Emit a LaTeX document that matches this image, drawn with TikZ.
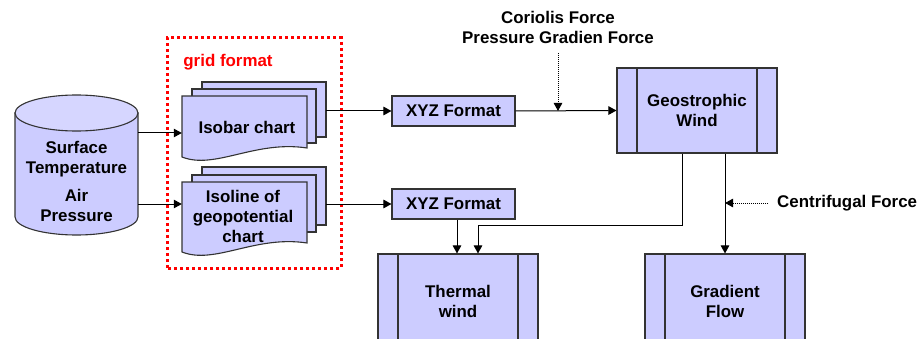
\documentclass[tikz,border=0pt]{standalone}
\usepackage{fontspec}
\setmainfont{Liberation Sans}
\usetikzlibrary{arrows.meta,calc}
\definecolor{boxfill}{HTML}{CCCCFF}
\definecolor{topfill}{HTML}{D6D6FF}
\definecolor{edge}{HTML}{333333}
\begin{document}
\begin{tikzpicture}[x=1pt,y=1pt,
  every node/.style={font=\fontsize{16.9}{20}\selectfont\bfseries, align=center, inner sep=0pt},
  proc/.style={draw=edge, fill=boxfill, line width=1.1pt, minimum width=160pt,
    path picture={\draw[edge, line width=1.1pt]
      ([xshift=20pt]path picture bounding box.north west) -- ([xshift=20pt]path picture bounding box.south west)
      ([xshift=-20pt]path picture bounding box.north east) -- ([xshift=-20pt]path picture bounding box.south east);}},
  fmt/.style={draw=edge, fill=boxfill, line width=1.1pt, minimum width=123pt, minimum height=30pt},
  arr/.style={-{Triangle[length=8pt,width=8.5pt]}, line width=1pt, black},
  darr/.style={-{Triangle[length=8pt,width=8.5pt]}, line width=0.9pt, black, dash pattern=on 1pt off 1pt},
  page/.style={draw=edge, fill=boxfill, line width=1.1pt},
  gridbox/.style={draw=red, line width=3pt, dash pattern=on 3pt off 3pt}
]
\useasboundingbox (0,0) rectangle (924,338);
\clip (0,0) rectangle (924,338);

% cylinder
\filldraw[page] (15,225) -- (15,121) arc[start angle=180,end angle=360,x radius=61.5,y radius=18] -- (138,225) -- cycle;
\filldraw[page, fill=topfill] (76.5,225) ellipse[x radius=61.5, y radius=18];
\node (db) at (76.5,157) {Surface\\Temperature\\[8pt]Air\\Pressure};
\coordinate (dbA) at (138,205);
\coordinate (dbB) at (138,134);

% grid format box
\draw[gridbox] (167,70) rectangle (341,300);
\node[text=red] (grid) at (228,276) {grid format};

% isobar chart (multi document)
\filldraw[page] (202,201) rectangle (326,256);
\filldraw[page] (192,195) rectangle (316,249);
\filldraw[page] (307,190) -- (307,242) -- (182,242) -- (182,181) .. controls (215,168) and (255,198) .. (307,190) -- cycle;
\node[minimum width=125pt, minimum height=61pt] (isobar) at (244.5,211.5) {};
\node (isobartxt) at (247,211) {Isobar chart};
\coordinate (isobarout) at (326,227);

% isoline chart (multi document)
\filldraw[page] (202,113) rectangle (326,171);
\filldraw[page] (192,106) rectangle (316,163);
\filldraw[page] (307,95) -- (307,156) -- (182,156) -- (182,86) .. controls (215,73) and (255,103) .. (307,95) -- cycle;
\node[minimum width=125pt, minimum height=66pt] (isoline) at (244.5,122) {};
\node (isolinetxt) at (243,122) {Isoline of\\geopotential\\chart};
\coordinate (isolineout) at (326,134);

% XYZ format boxes
\node[fmt] (xyz1) at (453.5,227) {XYZ Format};
\node[fmt] (xyz2) at (453.5,134) {XYZ Format};

% process boxes
\node[proc, minimum height=85pt] (geo) at (697,227.5) {Geostrophic\\Wind};
\node[proc, minimum height=94pt] (thermal) at (458,37) {Thermal\\wind};
\node[proc, minimum height=94pt] (grad) at (725,37) {Gradient\\Flow};

% force labels
\node (cor) at (558,310.5) {Coriolis Force\\Pressure Gradien Force};
\coordinate (corA) at (558,285);
\coordinate (corB) at (558,227);
\node[anchor=west] (cen) at (777,135) {Centrifugal Force};

% connectors
\draw[arr] (dbA) -- (dbA -| isobar.west);
\draw[arr] (dbB) -- (dbB -| isoline.west);
\draw[arr] (isobarout) -- (xyz1.west);
\draw[arr] (isolineout) -- (xyz2.west);
\draw[arr] (xyz1.east) -- (geo.west);
\draw[darr] (corA) -- (corB);
\draw[arr] ([xshift=3.5pt]xyz2.south) -- ([xshift=3.5pt]xyz2.south |- thermal.north);
\draw[arr] ([xshift=-15pt]geo.south) |- ($(thermal.north)+(20,28)$) -- ([xshift=20pt]thermal.north);
\draw[arr] (geo.south -| grad.north) -- (grad.north);
\draw[darr] ([xshift=-9pt]cen.west) -- (cen.west -| grad.north);
\end{tikzpicture}
\end{document}
